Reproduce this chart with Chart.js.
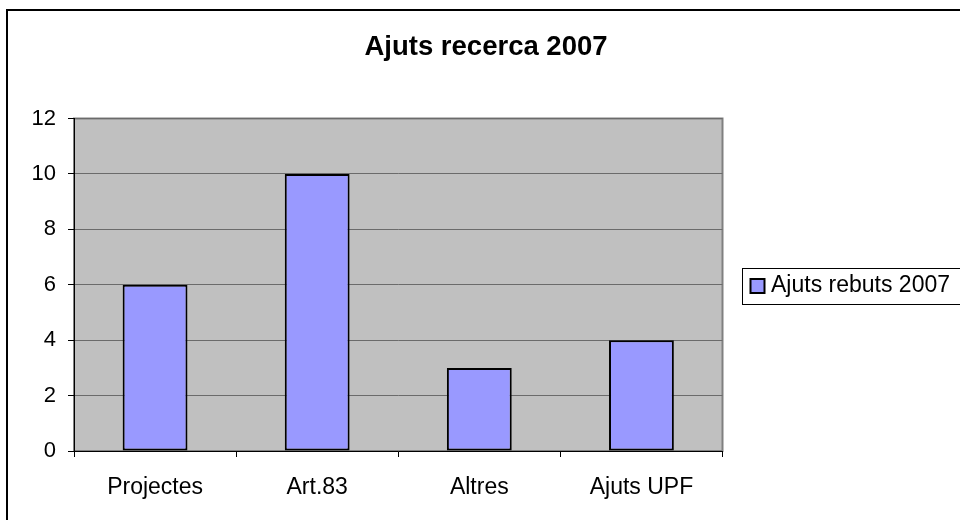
<!DOCTYPE html>
<html>
<head>
<meta charset="utf-8">
<script src="https://cdn.jsdelivr.net/npm/chart.js@4.4.1/dist/chart.umd.min.js"></script>
<style>
  html, body { margin: 0; padding: 0; background: #fff; }
  #c { display: block; }
</style>
</head>
<body>
<canvas id="c" width="960" height="520"></canvas>
<script>
const categories = ["Projectes", "Art.83", "Altres", "Ajuts UPF"];
const seriesName = "Ajuts rebuts 2007";
const seriesValues = [6, 10, 3, 4];
const yTicks = [0, 2, 4, 6, 8, 10, 12];
const chartTitle = "Ajuts recerca 2007";

const FONT = "'Liberation Sans', Arial, sans-serif";
const BAR_FILL = "#9999FF";

const decor = {
  id: "decor",
  beforeDraw(chart) {
    const ctx = chart.ctx;
    const a = chart.chartArea;
    ctx.save();
    ctx.fillStyle = "#fff";
    ctx.fillRect(0, 0, chart.width, chart.height);
    ctx.strokeStyle = "#000";
    ctx.lineWidth = 2;
    ctx.strokeRect(7, 10, 1000, 1000);
    ctx.fillStyle = "#C0C0C0";
    ctx.fillRect(a.left, a.top, a.right - a.left, a.bottom - a.top);
    ctx.strokeStyle = "#808080";
    ctx.lineWidth = 2;
    ctx.strokeRect(a.left, a.top, a.right - a.left, a.bottom - a.top);
    ctx.restore();
  },
  afterDraw(chart) {
    const ctx = chart.ctx;
    const lg = chart.legend;
    if (!lg || !lg.legendHitBoxes || !lg.legendHitBoxes.length) return;
    const hb = lg.legendHitBoxes[0];
    const cy = hb.top + hb.height / 2;
    ctx.save();
    ctx.strokeStyle = "#000";
    ctx.lineWidth = 1;
    ctx.strokeRect(Math.round(hb.left - 8) + 0.5, Math.round(cy - 18) + 0.5, 1000, 36);
    ctx.fillStyle = BAR_FILL;
    ctx.fillRect(hb.left + 1, cy - 7, 14, 14);
    ctx.strokeStyle = "#000";
    ctx.lineWidth = 2;
    ctx.strokeRect(hb.left + 1, cy - 7, 14, 14);
    ctx.restore();
  }
};

new Chart(document.getElementById("c"), {
  type: "bar",
  data: {
    labels: categories,
    datasets: [{
      label: seriesName,
      data: seriesValues,
      backgroundColor: BAR_FILL,
      borderColor: "#000",
      borderWidth: 2,
      borderSkipped: false,
      barPercentage: 0.4,
      categoryPercentage: 1.0
    }]
  },
  options: {
    responsive: false,
    animation: false,
    layout: { padding: { left: 13, right: 1, top: 0, bottom: 0 } },
    plugins: {
      title: {
        display: true,
        text: chartTitle,
        color: "#000",
        font: { family: FONT, size: 27.5, weight: "bold" },
        padding: { top: 31, bottom: 54.5 }
      },
      legend: {
        display: true,
        position: "right",
        title: {
          display: true,
          text: " ",
          color: "#000",
          font: { family: FONT, size: 10 },
          padding: { top: 40, bottom: 0 }
        },
        labels: {
          color: "#000",
          font: { family: FONT, size: 23 },
          boxWidth: 10,
          boxHeight: 14,
          padding: 27,
          generateLabels(chart) {
            return chart.data.datasets.map((d, i) => ({
              text: d.label,
              fontColor: "#000",
              fillStyle: "rgba(0,0,0,0)",
              strokeStyle: "rgba(0,0,0,0)",
              lineWidth: 0,
              hidden: false,
              datasetIndex: i
            }));
          }
        }
      },
      tooltip: { enabled: false }
    },
    scales: {
      x: {
        grid: {
          drawOnChartArea: false,
          drawTicks: true,
          tickLength: 6,
          tickColor: "#000",
          offset: true
        },
        border: { display: true, color: "#000", width: 1 },
        ticks: { color: "#000", font: { family: FONT, size: 23 }, padding: 17, maxRotation: 0 },
        afterFit(scale) { scale.height = 69; }
      },
      y: {
        min: 0,
        max: 12,
        afterBuildTicks(scale) { scale.ticks = yTicks.map(v => ({ value: v })); },
        grid: {
          color: "#6b6b6b",
          lineWidth: 1,
          drawTicks: true,
          tickLength: 6,
          tickColor: "#000"
        },
        border: { display: true, color: "#000", width: 1 },
        ticks: { color: "#000", font: { family: FONT, size: 22 }, padding: 12 },
        afterFit(scale) { scale.width = 61; }
      }
    }
  },
  plugins: [decor]
});
</script>
</body>
</html>
